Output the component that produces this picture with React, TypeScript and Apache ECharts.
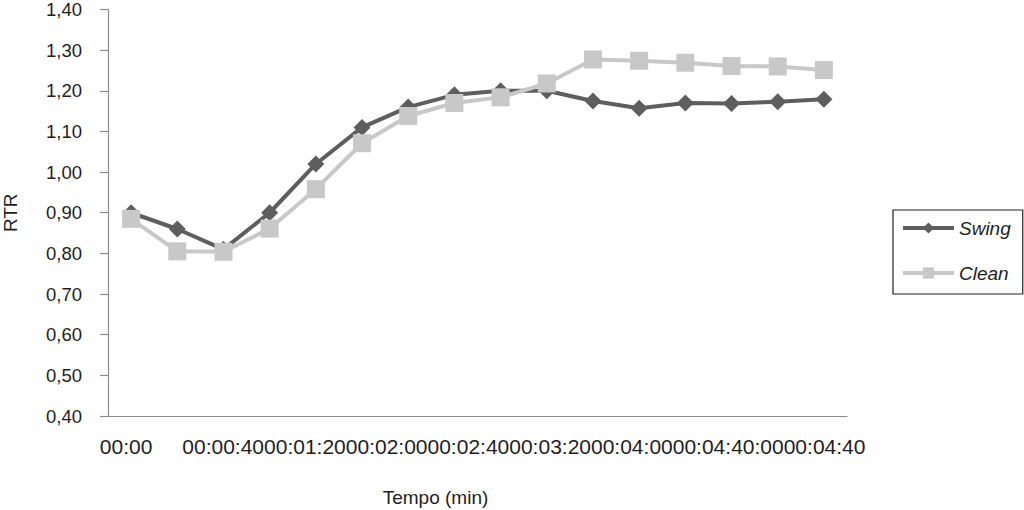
import React, { useEffect, useRef } from "react";
import * as echarts from "echarts";

const timeCategories = [
  "00:00", "00:20", "00:40", "01:00", "01:20", "01:40", "02:00", "02:20",
  "02:40", "03:00", "03:20", "03:40", "04:00", "04:20", "04:40", "05:00",
];
const xTickLabels = [
  "00:00", "00:00:40", "00:01:20", "00:02:00", "00:02:40", "00:03:20",
  "00:04:00", "00:04:40:00", "00:04:40",
];
const swingValues = [0.9, 0.86, 0.81, 0.9, 1.02, 1.11, 1.16, 1.19, 1.2, 1.2, 1.175, 1.157, 1.17, 1.169, 1.173, 1.179];
const cleanValues = [0.885, 0.805, 0.804, 0.861, 0.958, 1.071, 1.138, 1.17, 1.184, 1.218, 1.277, 1.274, 1.269, 1.261, 1.26, 1.251];
const yMin = 0.4;
const yMax = 1.4;
const yStep = 0.1;

const FONT = "Liberation Sans, Arial, Helvetica, sans-serif";
const AXIS_COLOR = "#8c8c8c";
const TEXT_COLOR = "#1e1e1e";

export default function App() {
  const ref = useRef<HTMLDivElement>(null);
  useEffect(() => {
    if (!ref.current) return;
    const chart = echarts.init(ref.current, undefined, { renderer: "svg" });
    const joined = xTickLabels.slice(1).join("");
    chart.setOption({
      animation: false,
      backgroundColor: "#ffffff",
      textStyle: { fontFamily: FONT },
      grid: { left: 108, right: 177, top: 9.5, bottom: 94, containLabel: false, outerBoundsMode: "none" },
      legend: {
        orient: "vertical",
        left: 893,
        top: 210,
        padding: [6, 12, 9, 8],
        itemGap: 21,
        itemWidth: 51,
        itemHeight: 14,
        borderColor: "#222222",
        borderWidth: 1.2,
        lineStyle: { width: 4 },
        textStyle: { fontSize: 19, fontStyle: "italic", color: TEXT_COLOR, fontFamily: FONT, lineHeight: 24 },
        data: ["Swing", "Clean"],
      },
      xAxis: [
        {
          type: "category",
          data: timeCategories,
          boundaryGap: true,
          axisLine: { lineStyle: { color: AXIS_COLOR, width: 1.2 } },
          axisTick: { length: 7, lineStyle: { color: AXIS_COLOR, width: 1.2 } },
          axisLabel: {
            interval: 0,
            fontSize: 21,
            color: TEXT_COLOR,
            margin: 20,
            padding: [0, 10, 0, 0],
            formatter: (_v: string, i: number) => (i === 0 ? xTickLabels[0] : ""),
          },
          splitLine: { show: false },
          name: "Tempo (min)",
          nameLocation: "middle",
          nameGap: 72,
          nameTextStyle: { fontSize: 19, color: TEXT_COLOR, padding: [0, 84, 0, 0] },
        },
        {
          type: "category",
          data: timeCategories,
          position: "bottom",
          boundaryGap: true,
          axisLine: { show: false },
          axisTick: { show: false },
          axisLabel: {
            interval: 0,
            fontSize: 21,
            color: TEXT_COLOR,
            margin: 20,
            align: "left",
            padding: [0, 0, 0, 5],
            formatter: (_v: string, i: number) => (i === 1 ? joined : ""),
          },
          splitLine: { show: false },
        },
      ],
      yAxis: {
        type: "value",
        min: yMin,
        max: yMax,
        interval: yStep,
        axisLine: { show: true, lineStyle: { color: AXIS_COLOR, width: 1.2 } },
        axisTick: { show: true, length: 8, lineStyle: { color: AXIS_COLOR, width: 1.2 } },
        splitLine: { show: false },
        axisLabel: {
          fontSize: 18.5,
          color: TEXT_COLOR,
          margin: 26,
          formatter: (v: number) => v.toFixed(2).replace(".", ","),
        },
        name: "RTR",
        nameLocation: "middle",
        nameGap: 88,
        nameTextStyle: { fontSize: 19, color: TEXT_COLOR },
      },
      series: [
        {
          name: "Swing",
          type: "line",
          xAxisIndex: 0,
          data: swingValues,
          symbol: "diamond",
          symbolSize: 17,
          color: "#5e5e5e",
          lineStyle: { color: "#5e5e5e", width: 4 },
          itemStyle: { color: "#5e5e5e" },
        },
        {
          name: "Clean",
          type: "line",
          xAxisIndex: 0,
          data: cleanValues,
          symbol: "rect",
          symbolSize: 18,
          color: "#c8c8c8",
          lineStyle: { color: "#c8c8c8", width: 4 },
          itemStyle: { color: "#c8c8c8" },
        },
      ],
    });
    return () => chart.dispose();
  }, []);
  return (
    <div
      ref={ref}
      style={{ position: "fixed", left: 0, top: 0, width: 1024, height: 510, background: "#fff" }}
    />
  );
}
